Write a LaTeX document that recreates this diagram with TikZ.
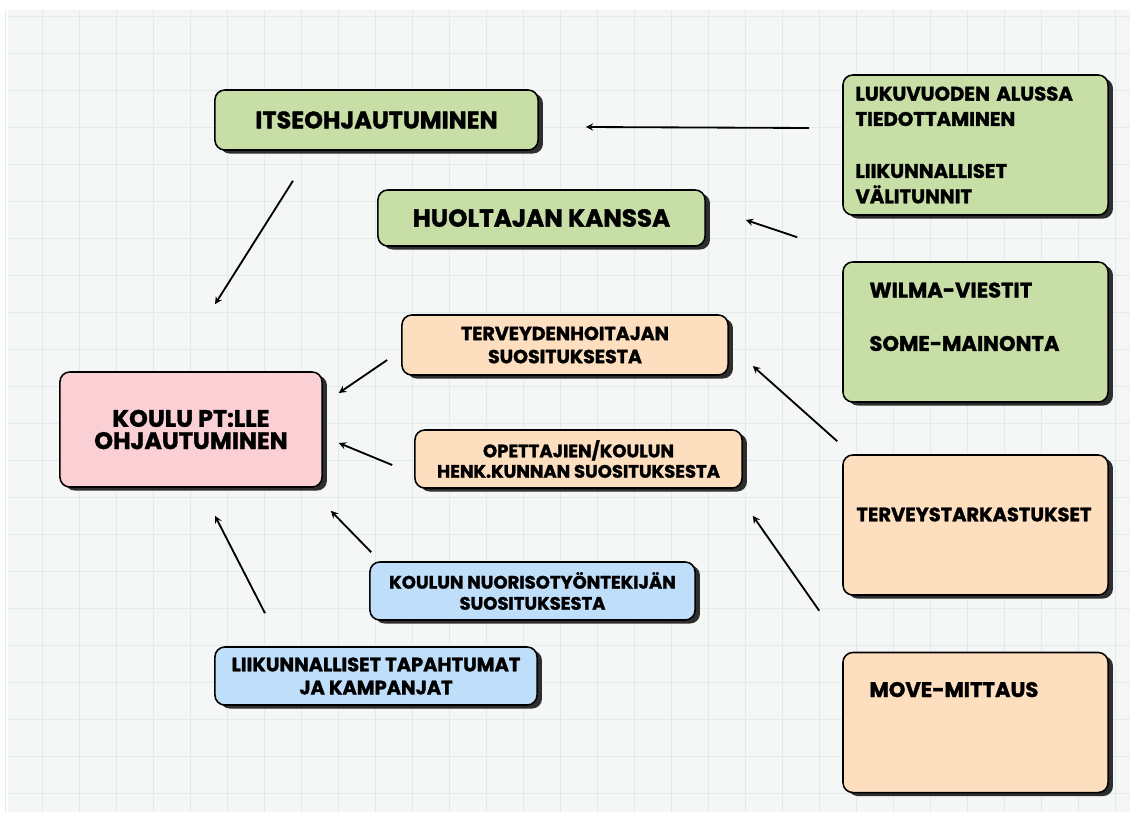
\documentclass[tikz,border=0pt]{standalone}
\usepackage{fontspec}
\setmainfont{Poppins}[BoldFeatures={FakeBold=1.5}]
\usepackage{tikz}
\usetikzlibrary{shadows, calc, arrows}
\definecolor{boxgreen}{HTML}{C7DEA7}
\definecolor{boxpeach}{HTML}{FDDEBE}
\definecolor{boxpink}{HTML}{FAD0D5}
\definecolor{boxblue}{HTML}{BEDEFA}
\definecolor{shadowgray}{HTML}{2E2E2E}
\definecolor{paper}{HTML}{F5F6F6}
\definecolor{gridline}{HTML}{E2EBEB}
\tikzstyle{box} = [rectangle, rounded corners=7pt, draw=black, line width=1.1pt, text centered, align=center, inner sep=0pt, drop shadow={shadow xshift=3.5pt, shadow yshift=-2.5pt, fill=shadowgray, opacity=1}]
\tikzstyle{greenbox} = [box, fill=boxgreen]
\tikzstyle{peachbox} = [box, fill=boxpeach]
\tikzstyle{bluebox} = [box, fill=boxblue]
\tikzstyle{pinkbox} = [box, fill=boxpink]
\tikzstyle{sidebox} = [minimum width=6.625cm, minimum height=3.5cm]
\tikzstyle{label} = [inner sep=0pt, anchor=north west, align=left]
\tikzstyle{arrow} = [line width=1.3pt,->,>=stealth]

\begin{document}
\begin{tikzpicture}[x=0.025cm, y=-0.025cm]
\useasboundingbox (0,0) rectangle (1136,820);
% paper background
\fill[paper] (8,10) rectangle (1130,812);
\foreach \gx in {5,42,...,1130} \draw[gridline, line width=0.5pt] (\gx,10) -- (\gx,812);
\foreach \gy in {16,53,...,812} \draw[gridline, line width=0.5pt] (8,\gy) -- (1130,\gy);

% left and middle boxes
\node (itse) [greenbox, minimum width=8.075cm, minimum height=1.5cm, font=\fontsize{17}{20}\selectfont\bfseries] at (376.5,120) {ITSEOHJAUTUMINEN};
\node (huol) [greenbox, minimum width=8.175cm, minimum height=1.4cm, font=\fontsize{17.5}{20}\selectfont\bfseries] at (541.5,218) {HUOLTAJAN KANSSA};
\node (koulu) [pinkbox, minimum width=6.55cm, minimum height=2.875cm, font=\fontsize{17}{15.8}\selectfont\bfseries] at (191,429.5) {KOULU PT:LLE\\OHJAUTUMINEN};
\node (terv) [peachbox, minimum width=8.15cm, minimum height=1.5cm, font=\fontsize{13.5}{16.4}\selectfont\bfseries] at (565,345) {TERVEYDENHOITAJAN\\SUOSITUKSESTA};
\node (opet) [peachbox, minimum width=8.175cm, minimum height=1.45cm, font=\fontsize{12.8}{14.5}\selectfont\bfseries] at (578.5,459) {OPETTAJIEN/KOULUN\\HENK.KUNNAN SUOSITUKSESTA};
\node (nuor) [bluebox, minimum width=8.125cm, minimum height=1.45cm, font=\fontsize{12.8}{15}\selectfont\bfseries] at (532.5,591) {KOULUN NUORISOTYÖNTEKIJÄN\\SUOSITUKSESTA};
\node (liik) [bluebox, minimum width=8.05cm, minimum height=1.45cm, font=\fontsize{13.8}{16.4}\selectfont\bfseries] at (376,676) {LIIKUNNALLISET TAPAHTUMAT\\JA KAMPANJAT};

% right column
\node (luku) [greenbox, sidebox, text width=6cm, align=left, font=\fontsize{14}{18}\selectfont\bfseries] at (975.5,145) {LUKUVUODEN ALUSSA\\TIEDOTTAMINEN\\[19pt]LIIKUNNALLISET\\VÄLITUNNIT};
\node (wilma) [greenbox, sidebox] at (975.5,332) {};
\node (wilma-t) [label, font=\fontsize{15}{18}\selectfont\bfseries] at ($(wilma.north west)+(27,21)$) {WILMA-VIESTIT\\[20pt]SOME-MAINONTA};
\node (tark) [peachbox, sidebox] at (975.5,525) {};
\node (tark-t) [label, font=\fontsize{13.8}{15}\selectfont\bfseries] at ($(tark.north west)+(14,53)$) {TERVEYSTARKASTUKSET};
\node (move) [peachbox, sidebox] at (975.5,722.5) {};
\node (move-t) [label, font=\fontsize{15}{17}\selectfont\bfseries] at ($(move.north west)+(27,30)$) {MOVE-MITTAUS};

% arrows
\draw [arrow] ($(luku.west)+(-33,-17)$) -- ($(itse.east)+(47,7)$);
\draw [arrow] ($(wilma.north west)+(-45,-24)$) -- ($(huol.east)+(40,2)$);
\draw [arrow] ($(itse.south)+(-83.5,30)$) -- ($(koulu.north)+(24,-67)$);
\draw [arrow] ($(terv.west)+(-14,15)$) -- ($(koulu.east)+(16,-36.5)$);
\draw [arrow] ($(opet.west)+(-22,6)$) -- ($(koulu.east)+(16,13.5)$);
\draw [arrow] ($(nuor.north west)+(2,-9)$) -- ($(koulu.south east)+(8,23)$);
\draw [arrow] ($(liik.north)+(-111,-33)$) -- ($(koulu.south)+(24,28)$);
\draw [arrow] ($(tark.north west)+(-5,-13)$) -- ($(terv.east)+(24,21)$);
\draw [arrow] ($(move.north west)+(-23,-41)$) -- ($(opet.south east)+(10,27)$);
\end{tikzpicture}
\end{document}
